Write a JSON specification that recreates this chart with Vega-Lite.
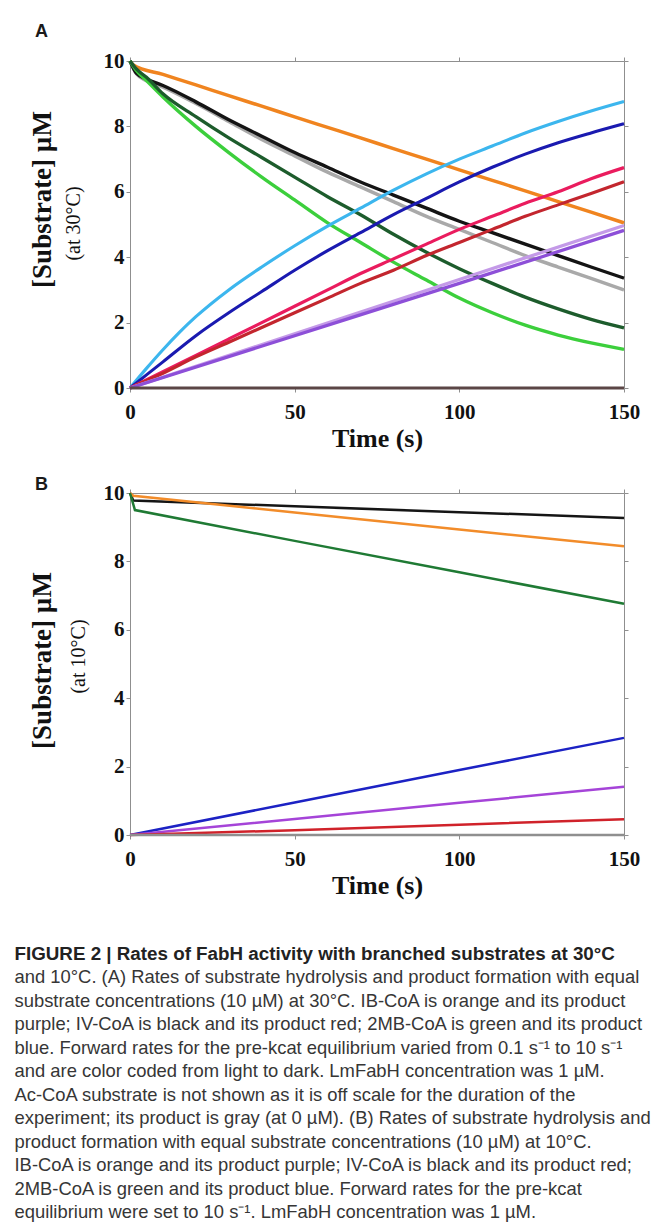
{
  "$schema": "https://vega.github.io/schema/vega-lite/v6.json",
  "padding": {"left": 14, "top": 23, "right": 4, "bottom": 4},
  "background": "white",
  "config": {
    "view": {"stroke": null},
    "axis": {
      "grid": false,
      "domainColor": "#8f8f8f",
      "tickColor": "#8f8f8f",
      "tickSize": 4,
      "labelFont": "Liberation Serif",
      "labelFontWeight": "bold",
      "labelFontSize": 21,
      "labelColor": "#111111",
      "labelPadding": 2,
      "titleFont": "Liberation Serif",
      "titleFontWeight": "bold",
      "titleFontSize": 26,
      "titleColor": "#111111"
    },
    "axisX": {"labelPadding": 9, "labelFlush": false, "titlePadding": 3}
  },
  "datasets": {
    "a_sub": [
      {"s": "IB-CoA", "t": 0, "v": 10}, {"s": "IB-CoA", "t": 1, "v": 9.88}, {"s": "IB-CoA", "t": 10, "v": 9.59}, {"s": "IB-CoA", "t": 20, "v": 9.27}, {"s": "IB-CoA", "t": 30, "v": 8.94}, {"s": "IB-CoA", "t": 40, "v": 8.62}, {"s": "IB-CoA", "t": 50, "v": 8.29}, {"s": "IB-CoA", "t": 60, "v": 7.97}, {"s": "IB-CoA", "t": 70, "v": 7.65}, {"s": "IB-CoA", "t": 80, "v": 7.32}, {"s": "IB-CoA", "t": 90, "v": 7.0}, {"s": "IB-CoA", "t": 100, "v": 6.67}, {"s": "IB-CoA", "t": 110, "v": 6.35}, {"s": "IB-CoA", "t": 120, "v": 6.03}, {"s": "IB-CoA", "t": 130, "v": 5.7}, {"s": "IB-CoA", "t": 140, "v": 5.38}, {"s": "IB-CoA", "t": 150, "v": 5.05},
      {"s": "IV-CoA light", "t": 0, "v": 10}, {"s": "IV-CoA light", "t": 2, "v": 9.6}, {"s": "IV-CoA light", "t": 5, "v": 9.4}, {"s": "IV-CoA light", "t": 10, "v": 9.2}, {"s": "IV-CoA light", "t": 20, "v": 8.7}, {"s": "IV-CoA light", "t": 30, "v": 8.15}, {"s": "IV-CoA light", "t": 40, "v": 7.6}, {"s": "IV-CoA light", "t": 50, "v": 7.1}, {"s": "IV-CoA light", "t": 60, "v": 6.6}, {"s": "IV-CoA light", "t": 70, "v": 6.15}, {"s": "IV-CoA light", "t": 80, "v": 5.7}, {"s": "IV-CoA light", "t": 90, "v": 5.25}, {"s": "IV-CoA light", "t": 100, "v": 4.85}, {"s": "IV-CoA light", "t": 110, "v": 4.45}, {"s": "IV-CoA light", "t": 120, "v": 4.05}, {"s": "IV-CoA light", "t": 130, "v": 3.7}, {"s": "IV-CoA light", "t": 140, "v": 3.35}, {"s": "IV-CoA light", "t": 150, "v": 3.0},
      {"s": "IV-CoA dark", "t": 0, "v": 10}, {"s": "IV-CoA dark", "t": 2, "v": 9.62}, {"s": "IV-CoA dark", "t": 5, "v": 9.45}, {"s": "IV-CoA dark", "t": 10, "v": 9.25}, {"s": "IV-CoA dark", "t": 20, "v": 8.75}, {"s": "IV-CoA dark", "t": 30, "v": 8.2}, {"s": "IV-CoA dark", "t": 40, "v": 7.7}, {"s": "IV-CoA dark", "t": 50, "v": 7.2}, {"s": "IV-CoA dark", "t": 60, "v": 6.75}, {"s": "IV-CoA dark", "t": 70, "v": 6.3}, {"s": "IV-CoA dark", "t": 80, "v": 5.9}, {"s": "IV-CoA dark", "t": 90, "v": 5.5}, {"s": "IV-CoA dark", "t": 100, "v": 5.1}, {"s": "IV-CoA dark", "t": 110, "v": 4.75}, {"s": "IV-CoA dark", "t": 120, "v": 4.4}, {"s": "IV-CoA dark", "t": 130, "v": 4.05}, {"s": "IV-CoA dark", "t": 140, "v": 3.7}, {"s": "IV-CoA dark", "t": 150, "v": 3.36},
      {"s": "2MB-CoA light", "t": 0, "v": 10}, {"s": "2MB-CoA light", "t": 2, "v": 9.7}, {"s": "2MB-CoA light", "t": 5, "v": 9.4}, {"s": "2MB-CoA light", "t": 10, "v": 8.9}, {"s": "2MB-CoA light", "t": 20, "v": 8.0}, {"s": "2MB-CoA light", "t": 30, "v": 7.2}, {"s": "2MB-CoA light", "t": 40, "v": 6.45}, {"s": "2MB-CoA light", "t": 50, "v": 5.75}, {"s": "2MB-CoA light", "t": 60, "v": 5.05}, {"s": "2MB-CoA light", "t": 70, "v": 4.45}, {"s": "2MB-CoA light", "t": 80, "v": 3.85}, {"s": "2MB-CoA light", "t": 90, "v": 3.3}, {"s": "2MB-CoA light", "t": 100, "v": 2.75}, {"s": "2MB-CoA light", "t": 110, "v": 2.3}, {"s": "2MB-CoA light", "t": 120, "v": 1.92}, {"s": "2MB-CoA light", "t": 130, "v": 1.62}, {"s": "2MB-CoA light", "t": 140, "v": 1.38}, {"s": "2MB-CoA light", "t": 150, "v": 1.18},
      {"s": "2MB-CoA dark", "t": 0, "v": 10}, {"s": "2MB-CoA dark", "t": 2, "v": 9.75}, {"s": "2MB-CoA dark", "t": 5, "v": 9.5}, {"s": "2MB-CoA dark", "t": 10, "v": 9.0}, {"s": "2MB-CoA dark", "t": 20, "v": 8.3}, {"s": "2MB-CoA dark", "t": 30, "v": 7.65}, {"s": "2MB-CoA dark", "t": 40, "v": 7.05}, {"s": "2MB-CoA dark", "t": 50, "v": 6.45}, {"s": "2MB-CoA dark", "t": 60, "v": 5.85}, {"s": "2MB-CoA dark", "t": 70, "v": 5.3}, {"s": "2MB-CoA dark", "t": 80, "v": 4.7}, {"s": "2MB-CoA dark", "t": 90, "v": 4.15}, {"s": "2MB-CoA dark", "t": 100, "v": 3.65}, {"s": "2MB-CoA dark", "t": 110, "v": 3.2}, {"s": "2MB-CoA dark", "t": 120, "v": 2.78}, {"s": "2MB-CoA dark", "t": 130, "v": 2.42}, {"s": "2MB-CoA dark", "t": 140, "v": 2.1}, {"s": "2MB-CoA dark", "t": 150, "v": 1.84}
    ],
    "a_prod": [
      {"s": "2MB product light", "t": 0, "v": 0}, {"s": "2MB product light", "t": 5, "v": 0.6}, {"s": "2MB product light", "t": 10, "v": 1.17}, {"s": "2MB product light", "t": 15, "v": 1.7}, {"s": "2MB product light", "t": 20, "v": 2.18}, {"s": "2MB product light", "t": 30, "v": 3.0}, {"s": "2MB product light", "t": 40, "v": 3.7}, {"s": "2MB product light", "t": 50, "v": 4.35}, {"s": "2MB product light", "t": 60, "v": 4.95}, {"s": "2MB product light", "t": 70, "v": 5.5}, {"s": "2MB product light", "t": 80, "v": 6.05}, {"s": "2MB product light", "t": 90, "v": 6.55}, {"s": "2MB product light", "t": 100, "v": 7.0}, {"s": "2MB product light", "t": 110, "v": 7.4}, {"s": "2MB product light", "t": 120, "v": 7.8}, {"s": "2MB product light", "t": 130, "v": 8.15}, {"s": "2MB product light", "t": 140, "v": 8.47}, {"s": "2MB product light", "t": 150, "v": 8.76},
      {"s": "2MB product dark", "t": 0, "v": 0}, {"s": "2MB product dark", "t": 5, "v": 0.4}, {"s": "2MB product dark", "t": 10, "v": 0.8}, {"s": "2MB product dark", "t": 20, "v": 1.6}, {"s": "2MB product dark", "t": 30, "v": 2.3}, {"s": "2MB product dark", "t": 40, "v": 2.95}, {"s": "2MB product dark", "t": 50, "v": 3.6}, {"s": "2MB product dark", "t": 60, "v": 4.2}, {"s": "2MB product dark", "t": 70, "v": 4.75}, {"s": "2MB product dark", "t": 80, "v": 5.3}, {"s": "2MB product dark", "t": 90, "v": 5.8}, {"s": "2MB product dark", "t": 100, "v": 6.3}, {"s": "2MB product dark", "t": 110, "v": 6.75}, {"s": "2MB product dark", "t": 120, "v": 7.15}, {"s": "2MB product dark", "t": 130, "v": 7.5}, {"s": "2MB product dark", "t": 140, "v": 7.8}, {"s": "2MB product dark", "t": 150, "v": 8.08},
      {"s": "IV product light", "t": 0, "v": 0}, {"s": "IV product light", "t": 10, "v": 0.5}, {"s": "IV product light", "t": 20, "v": 1.0}, {"s": "IV product light", "t": 30, "v": 1.5}, {"s": "IV product light", "t": 40, "v": 2.0}, {"s": "IV product light", "t": 50, "v": 2.5}, {"s": "IV product light", "t": 60, "v": 3.0}, {"s": "IV product light", "t": 70, "v": 3.5}, {"s": "IV product light", "t": 80, "v": 3.95}, {"s": "IV product light", "t": 90, "v": 4.4}, {"s": "IV product light", "t": 100, "v": 4.85}, {"s": "IV product light", "t": 110, "v": 5.25}, {"s": "IV product light", "t": 120, "v": 5.65}, {"s": "IV product light", "t": 130, "v": 6.0}, {"s": "IV product light", "t": 140, "v": 6.4}, {"s": "IV product light", "t": 150, "v": 6.74},
      {"s": "IV product dark", "t": 0, "v": 0}, {"s": "IV product dark", "t": 10, "v": 0.45}, {"s": "IV product dark", "t": 20, "v": 0.95}, {"s": "IV product dark", "t": 30, "v": 1.4}, {"s": "IV product dark", "t": 40, "v": 1.85}, {"s": "IV product dark", "t": 50, "v": 2.3}, {"s": "IV product dark", "t": 60, "v": 2.75}, {"s": "IV product dark", "t": 70, "v": 3.2}, {"s": "IV product dark", "t": 80, "v": 3.6}, {"s": "IV product dark", "t": 90, "v": 4.05}, {"s": "IV product dark", "t": 100, "v": 4.45}, {"s": "IV product dark", "t": 110, "v": 4.85}, {"s": "IV product dark", "t": 120, "v": 5.25}, {"s": "IV product dark", "t": 130, "v": 5.6}, {"s": "IV product dark", "t": 140, "v": 5.95}, {"s": "IV product dark", "t": 150, "v": 6.31},
      {"s": "IB product light", "t": 0, "v": 0}, {"s": "IB product light", "t": 50, "v": 1.66}, {"s": "IB product light", "t": 100, "v": 3.32}, {"s": "IB product light", "t": 150, "v": 4.97},
      {"s": "IB product dark", "t": 0, "v": 0}, {"s": "IB product dark", "t": 50, "v": 1.6}, {"s": "IB product dark", "t": 100, "v": 3.2}, {"s": "IB product dark", "t": 150, "v": 4.82}
    ],
    "a_zero": [
      {"s": "Ac-CoA product", "t": 0, "v": 0}, {"s": "Ac-CoA product", "t": 150, "v": 0}
    ],
    "b_sub": [
      {"s": "IV-CoA", "t": 0, "v": 10}, {"s": "IV-CoA", "t": 1, "v": 9.78}, {"s": "IV-CoA", "t": 50, "v": 9.61}, {"s": "IV-CoA", "t": 100, "v": 9.44}, {"s": "IV-CoA", "t": 150, "v": 9.27},
      {"s": "IB-CoA", "t": 0, "v": 10}, {"s": "IB-CoA", "t": 1, "v": 9.92}, {"s": "IB-CoA", "t": 50, "v": 9.43}, {"s": "IB-CoA", "t": 100, "v": 8.93}, {"s": "IB-CoA", "t": 150, "v": 8.44},
      {"s": "2MB-CoA", "t": 0, "v": 10}, {"s": "2MB-CoA", "t": 1.5, "v": 9.5}, {"s": "2MB-CoA", "t": 50, "v": 8.6}, {"s": "2MB-CoA", "t": 100, "v": 7.68}, {"s": "2MB-CoA", "t": 150, "v": 6.76}
    ],
    "b_prod": [
      {"s": "2MB product", "t": 0, "v": 0}, {"s": "2MB product", "t": 50, "v": 0.95}, {"s": "2MB product", "t": 100, "v": 1.9}, {"s": "2MB product", "t": 150, "v": 2.84},
      {"s": "IB product", "t": 0, "v": 0}, {"s": "IB product", "t": 50, "v": 0.47}, {"s": "IB product", "t": 100, "v": 0.94}, {"s": "IB product", "t": 150, "v": 1.41},
      {"s": "IV product", "t": 0, "v": 0}, {"s": "IV product", "t": 50, "v": 0.14}, {"s": "IV product", "t": 100, "v": 0.3}, {"s": "IV product", "t": 150, "v": 0.46}
    ],
    "b_zero": [
      {"s": "baseline", "t": 0, "v": 0}, {"s": "baseline", "t": 150, "v": 0}
    ]
  },
  "title": {
    "text": "FIGURE 2 | Rates of FabH activity with branched substrates at 30°C",
    "subtitle": [
      "and 10°C. (A) Rates of substrate hydrolysis and product formation with equal",
      "substrate concentrations (10 µM) at 30°C. IB-CoA is orange and its product",
      "purple; IV-CoA is black and its product red; 2MB-CoA is green and its product",
      "blue. Forward rates for the pre-kcat equilibrium varied from 0.1 s⁻¹ to 10 s⁻¹",
      "and are color coded from light to dark. LmFabH concentration was 1 µM.",
      "Ac-CoA substrate is not shown as it is off scale for the duration of the",
      "experiment; its product is gray (at 0 µM). (B) Rates of substrate hydrolysis and",
      "product formation with equal substrate concentrations (10 µM) at 10°C.",
      "IB-CoA is orange and its product purple; IV-CoA is black and its product red;",
      "2MB-CoA is green and its product blue. Forward rates for the pre-kcat",
      "equilibrium were set to 10 s⁻¹. LmFabH concentration was 1 µM."
    ],
    "orient": "bottom",
    "anchor": "start",
    "frame": "bounds",
    "offset": 47,
    "dx": -13.5,
    "font": "Liberation Sans",
    "fontSize": 18.8,
    "fontWeight": "bold",
    "color": "#222222",
    "lineHeight": 23.5,
    "subtitleFont": "Liberation Sans",
    "subtitleFontSize": 18.4,
    "subtitleFontWeight": "normal",
    "subtitleColor": "#363636",
    "subtitleLineHeight": 23.5,
    "subtitlePadding": 4.5
  },
  "spacing": 25,
  "resolve": {"scale": {"color": "independent", "strokeWidth": "independent"}},
  "vconcat": [
    {
      "width": 494,
      "height": 327,
      "title": {"text": "A", "anchor": "start", "frame": "bounds", "font": "Liberation Sans", "fontSize": 18, "fontWeight": "bold", "color": "#1a1a1a", "offset": 9, "dx": 7},
      "encoding": {
        "color": {
          "field": "s", "type": "nominal", "legend": null,
          "scale": {
            "domain": ["IB-CoA", "IV-CoA light", "IV-CoA dark", "2MB-CoA light", "2MB-CoA dark", "IB product light", "IB product dark", "IV product light", "IV product dark", "2MB product light", "2MB product dark", "Ac-CoA product"],
            "range": ["#f0841f", "#a9a9a9", "#141414", "#3ccf3c", "#1d5c2c", "#c49ae8", "#8d4fd8", "#ea1c5e", "#c3262e", "#3cb6ee", "#1a1ab0", "#5b4646"]
          }
        },
        "strokeWidth": {
          "field": "s", "type": "nominal", "legend": null,
          "scale": {
            "domain": ["IB-CoA", "IV-CoA light", "IV-CoA dark", "2MB-CoA light", "2MB-CoA dark", "IB product light", "IB product dark", "IV product light", "IV product dark", "2MB product light", "2MB product dark", "Ac-CoA product"],
            "range": [3.5, 3, 2.5, 4.5, 2.5, 3.5, 2, 3, 2.5, 4.5, 2.5, 3]
          }
        }
      },
      "layer": [
        {
          "data": {"name": "a_sub"},
          "mark": {"type": "line", "interpolate": "monotone"},
          "encoding": {
            "x": {"field": "t", "type": "quantitative", "scale": {"domain": [0, 150], "nice": false}, "axis": {"orient": "bottom", "values": [0, 50, 100, 150], "title": "Time (s)"}},
            "y": {"field": "v", "type": "quantitative", "scale": {"domain": [0, 10], "nice": false}, "axis": {"orient": "left", "values": [0, 2, 4, 6, 8, 10], "title": "(at 30°C)", "titleFontWeight": "normal", "titleFontSize": 20, "titleX": -57, "titleY": 162, "titleBaseline": "middle"}}
          }
        },
        {
          "data": {"name": "a_prod"},
          "mark": {"type": "line", "interpolate": "monotone"},
          "encoding": {
            "x": {"field": "t", "type": "quantitative", "scale": {"domain": [0, 150], "nice": false}, "axis": {"orient": "top", "values": [0, 50, 100, 150], "labels": false, "title": null}},
            "y": {"field": "v", "type": "quantitative", "scale": {"domain": [0, 10], "nice": false}, "axis": {"orient": "right", "values": [0, 2, 4, 6, 8, 10], "labels": false, "title": null}}
          }
        },
        {
          "data": {"name": "a_zero"},
          "mark": {"type": "line"},
          "encoding": {
            "x": {"field": "t", "type": "quantitative", "scale": {"domain": [0, 150], "nice": false}, "axis": null},
            "y": {"field": "v", "type": "quantitative", "scale": {"domain": [0, 10], "nice": false}, "axis": {"orient": "left", "labels": false, "ticks": false, "domain": false, "title": "[Substrate] µM", "titleFontSize": 27, "titleX": -88, "titleY": 138, "titleBaseline": "middle"}}
          }
        }
      ],
      "resolve": {"axis": {"x": "independent", "y": "independent"}}
    },
    {
      "width": 494,
      "height": 342,
      "title": {"text": "B", "anchor": "start", "frame": "bounds", "font": "Liberation Sans", "fontSize": 18, "fontWeight": "bold", "color": "#1a1a1a", "offset": -12, "dx": 7},
      "encoding": {
        "color": {
          "field": "s", "type": "nominal", "legend": null,
          "scale": {
            "domain": ["IB-CoA", "IV-CoA", "2MB-CoA", "IB product", "IV product", "2MB product", "baseline"],
            "range": ["#f28c2a", "#151515", "#1f7a34", "#a544d8", "#d0222a", "#1c22c4", "#8f8f8f"]
          }
        },
        "strokeWidth": {
          "field": "s", "type": "nominal", "legend": null,
          "scale": {
            "domain": ["IB-CoA", "IV-CoA", "2MB-CoA", "IB product", "IV product", "2MB product", "baseline"],
            "range": [2.5, 2.5, 2.5, 2.5, 2.5, 2.5, 1]
          }
        }
      },
      "layer": [
        {
          "data": {"name": "b_sub"},
          "mark": {"type": "line"},
          "encoding": {
            "x": {"field": "t", "type": "quantitative", "scale": {"domain": [0, 150], "nice": false}, "axis": {"orient": "bottom", "values": [0, 50, 100, 150], "title": "Time (s)"}},
            "y": {"field": "v", "type": "quantitative", "scale": {"domain": [0, 10], "nice": false}, "axis": {"orient": "left", "values": [0, 2, 4, 6, 8, 10], "title": "(at 10°C)", "titleFontWeight": "normal", "titleFontSize": 20, "titleX": -52, "titleY": 163, "titleBaseline": "middle"}}
          }
        },
        {
          "data": {"name": "b_prod"},
          "mark": {"type": "line"},
          "encoding": {
            "x": {"field": "t", "type": "quantitative", "scale": {"domain": [0, 150], "nice": false}, "axis": {"orient": "top", "values": [0, 50, 100, 150], "labels": false, "title": null}},
            "y": {"field": "v", "type": "quantitative", "scale": {"domain": [0, 10], "nice": false}, "axis": {"orient": "right", "values": [0, 2, 4, 6, 8, 10], "labels": false, "title": null}}
          }
        },
        {
          "data": {"name": "b_zero"},
          "mark": {"type": "line"},
          "encoding": {
            "x": {"field": "t", "type": "quantitative", "scale": {"domain": [0, 150], "nice": false}, "axis": null},
            "y": {"field": "v", "type": "quantitative", "scale": {"domain": [0, 10], "nice": false}, "axis": {"orient": "left", "labels": false, "ticks": false, "domain": false, "title": "[Substrate] µM", "titleFontSize": 27, "titleX": -88, "titleY": 167, "titleBaseline": "middle"}}
          }
        }
      ],
      "resolve": {"axis": {"x": "independent", "y": "independent"}}
    }
  ]
}
